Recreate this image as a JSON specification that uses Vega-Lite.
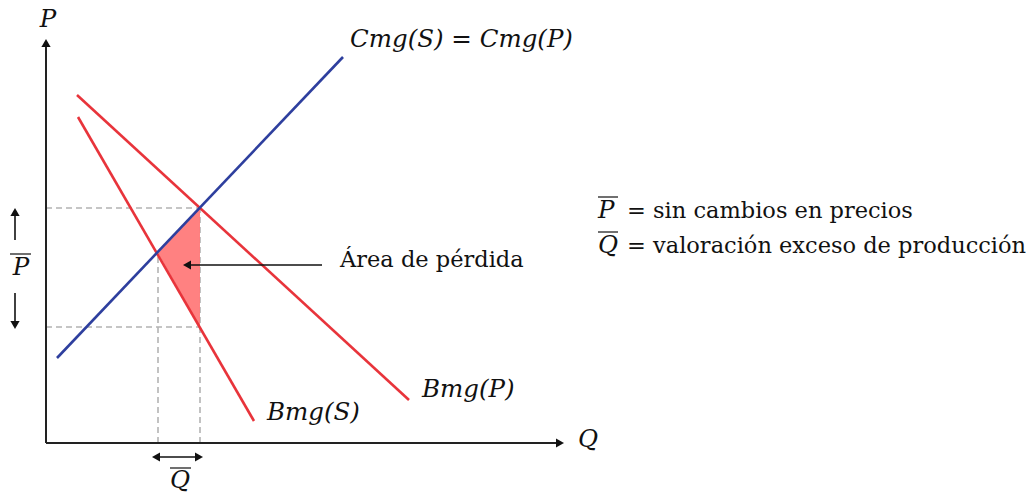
{
  "$schema": "https://vega.github.io/schema/vega-lite/v6.json",
  "width": 1033,
  "height": 496,
  "autosize": {"type": "none"},
  "padding": 0,
  "config": {"view": {"stroke": null}},
  "encoding": {
    "x": {"field": "x", "type": "quantitative", "scale": {"domain": [-46, 987], "nice": false, "zero": false}, "axis": null},
    "y": {"field": "y", "type": "quantitative", "scale": {"domain": [-53, 443], "nice": false, "zero": false}, "axis": null}
  },
  "layer": [
    {
      "data": {"values": [
        {"x": 0, "y": 235, "x2": 154, "y2": 235},
        {"x": 0, "y": 116, "x2": 154, "y2": 116},
        {"x": 112, "y": 0, "x2": 112, "y2": 190},
        {"x": 154, "y": 0, "x2": 154, "y2": 235}
      ]},
      "mark": {"type": "rule", "stroke": "#b3b3b3", "strokeWidth": 1.6, "strokeDash": [6, 4]},
      "encoding": {"x2": {"field": "x2"}, "y2": {"field": "y2"}}
    },
    {
      "data": {"values": [
        {"x": 112, "y": 190, "y2": 190},
        {"x": 154, "y": 235, "y2": 116}
      ]},
      "mark": {"type": "area", "fill": "#ff7a7a", "opacity": 0.95},
      "encoding": {"y2": {"field": "y2"}}
    },
    {
      "data": {"values": [
        {"x": 31, "y": 348, "x2": 363, "y2": 43},
        {"x": 32, "y": 326, "x2": 208, "y2": 22}
      ]},
      "mark": {"type": "rule", "stroke": "#e8343b", "strokeWidth": 2.6},
      "encoding": {"x2": {"field": "x2"}, "y2": {"field": "y2"}}
    },
    {
      "data": {"values": [
        {"x": 11, "y": 85, "x2": 297, "y2": 386}
      ]},
      "mark": {"type": "rule", "stroke": "#2e3f9e", "strokeWidth": 2.6},
      "encoding": {"x2": {"field": "x2"}, "y2": {"field": "y2"}}
    },
    {
      "data": {"values": [
        {"x": 0, "y": 0, "x2": 0, "y2": 397},
        {"x": 0, "y": 0, "x2": 511, "y2": 0}
      ]},
      "mark": {"type": "rule", "stroke": "#222222", "strokeWidth": 2},
      "encoding": {"x2": {"field": "x2"}, "y2": {"field": "y2"}}
    },
    {
      "data": {"values": [
        {"x": 276, "y": 178, "x2": 145, "y2": 178},
        {"x": -31, "y": 203, "x2": -31, "y2": 227},
        {"x": -31, "y": 150, "x2": -31, "y2": 122},
        {"x": 114, "y": -14, "x2": 149, "y2": -14}
      ]},
      "mark": {"type": "rule", "stroke": "#111111", "strokeWidth": 1.6},
      "encoding": {"x2": {"field": "x2"}, "y2": {"field": "y2"}}
    },
    {
      "data": {"values": [
        {"x": -36, "y": 189, "x2": -15, "y2": 189},
        {"x": 124, "y": -25, "x2": 145, "y2": -25},
        {"x": 552, "y": 246, "x2": 572, "y2": 246},
        {"x": 552, "y": 211, "x2": 572, "y2": 211}
      ]},
      "mark": {"type": "rule", "stroke": "#111111", "strokeWidth": 1.2},
      "encoding": {"x2": {"field": "x2"}, "y2": {"field": "y2"}}
    },
    {
      "data": {"values": [
        {"x": 0, "y": 400, "dir": "up"},
        {"x": 514, "y": 0, "dir": "right"},
        {"x": 141, "y": 178, "dir": "left"},
        {"x": -31, "y": 231, "dir": "up"},
        {"x": -31, "y": 118, "dir": "down"},
        {"x": 110, "y": -14, "dir": "left"},
        {"x": 153, "y": -14, "dir": "right"}
      ]},
      "mark": {"type": "point", "filled": true, "color": "#111111", "opacity": 1, "size": 85},
      "encoding": {
        "shape": {"field": "dir", "type": "nominal", "legend": null,
          "scale": {"domain": ["up", "down", "left", "right"], "range": ["triangle-up", "triangle-down", "triangle-left", "triangle-right"]}}
      }
    },
    {
      "data": {"values": [
        {"x": 2, "y": 416, "t": "P", "a": "center"},
        {"x": 532, "y": -4, "t": "Q", "a": "left"},
        {"x": -25, "y": 168, "t": "P", "a": "center"},
        {"x": 134, "y": -45, "t": "Q", "a": "center"},
        {"x": 304, "y": 396, "t": "Cmg(S) = Cmg(P)", "a": "left"},
        {"x": 376, "y": 46, "t": "Bmg(P)", "a": "left"},
        {"x": 221, "y": 23, "t": "Bmg(S)", "a": "left"},
        {"x": 552, "y": 225, "t": "P", "a": "left"},
        {"x": 552, "y": 190, "t": "Q", "a": "left"}
      ]},
      "mark": {"type": "text", "font": "DejaVu Serif", "fontStyle": "italic", "fontSize": 24.5, "baseline": "alphabetic", "align": {"expr": "datum.a"}, "color": "#111111"},
      "encoding": {"text": {"field": "t"}}
    },
    {
      "data": {"values": [
        {"x": 294, "y": 176, "t": "Área de pérdida"},
        {"x": 581, "y": 225, "t": "= sin cambios en precios"},
        {"x": 581, "y": 190, "t": "= valoración exceso de producción"}
      ]},
      "mark": {"type": "text", "font": "DejaVu Serif", "fontSize": 22.5, "baseline": "alphabetic", "align": "left", "color": "#111111"},
      "encoding": {"text": {"field": "t"}}
    }
  ]
}
